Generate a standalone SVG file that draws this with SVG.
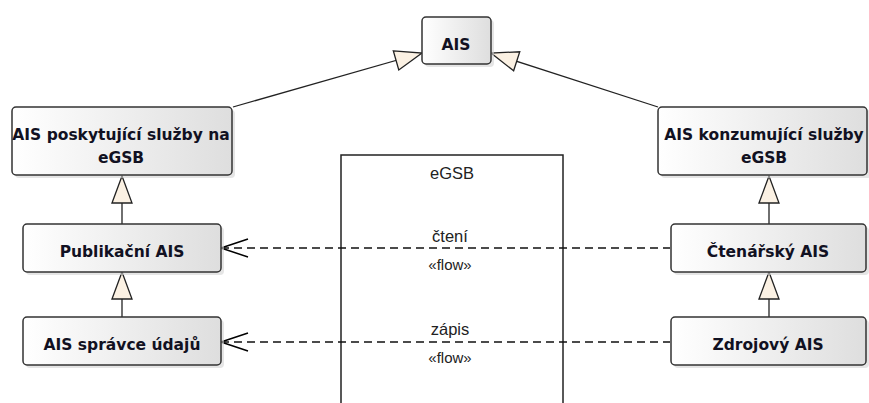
<svg xmlns="http://www.w3.org/2000/svg" width="869" height="403" viewBox="0 0 869 403">
<defs>
<linearGradient id="g" x1="0" y1="0" x2="1" y2="0">
<stop offset="0" stop-color="#ffffff"/>
<stop offset="1" stop-color="#dedede"/>
</linearGradient>
<marker id="open" viewBox="0 0 30 20" refX="1" refY="10" markerWidth="30" markerHeight="20" markerUnits="userSpaceOnUse" orient="auto">
<path d="M28,1 L1,10 L28,19" fill="none" stroke="#000" stroke-width="1.5"/>
</marker>
<marker id="gen" viewBox="0 0 30 24" refX="29" refY="12" markerWidth="30" markerHeight="24" markerUnits="userSpaceOnUse" orient="auto">
<path d="M2,2 L29,12 L2,22 Z" fill="#fbf1e3" stroke="#222" stroke-width="1.3"/>
</marker>
</defs>
<style>
.box{fill:url(#g);stroke:#333;stroke-width:1.5}
.sh{fill:#d4d4d4;opacity:0.6}
.t{font-family:"DejaVu Sans",Verdana,sans-serif;font-weight:bold;font-size:15.5px;fill:#111122;text-anchor:middle}
.lbl{font-family:"Liberation Sans",Arial,sans-serif;font-size:16.5px;fill:#222;text-anchor:middle}
.st{font-family:"Liberation Sans",Arial,sans-serif;font-size:15px;fill:#222;text-anchor:middle}
.ln{stroke:#222;stroke-width:1.3;fill:none}
.dash{stroke:#111;stroke-width:1.5;fill:none;stroke-dasharray:8,5}
</style>
<g id="eGSB">
<rect x="341" y="155" width="222" height="260" fill="#fff" stroke="#222" stroke-width="1.5"/>
<text class="lbl" x="452" y="179">eGSB</text>
</g>
<g id="connectors">
<path class="ln" d="M233,107 L422,53" marker-end="url(#gen)"/>
<path class="ln" d="M658,107 L491,53" marker-end="url(#gen)"/>
<path class="ln" d="M122,224 L122,176" marker-end="url(#gen)"/>
<path class="ln" d="M122,317 L122,272" marker-end="url(#gen)"/>
<path class="ln" d="M769,224 L769,176" marker-end="url(#gen)"/>
<path class="ln" d="M769,317 L769,272" marker-end="url(#gen)"/>
<path class="dash" d="M221,248 L670,248" marker-start="url(#open)"/>
<path class="dash" d="M221,342 L670,342" marker-start="url(#open)"/>
<text class="lbl" x="450" y="242">čtení</text>
<text class="st" x="450" y="270">«flow»</text>
<text class="lbl" x="450" y="335">zápis</text>
<text class="st" x="450" y="363">«flow»</text>
</g>
<g id="AIS">
<rect class="sh" x="425" y="20" width="69" height="47" rx="4"/>
<rect class="box" x="422" y="17" width="69" height="47" rx="4"/>
<text class="t" x="456" y="50">AIS</text>
</g>
<g id="AIS_poskytujici">
<rect class="sh" x="15" y="110" width="220" height="68" rx="4"/>
<rect class="box" x="12" y="107" width="220" height="68" rx="4"/>
<text class="t" x="121" y="140">AIS poskytující služby na</text>
<text class="t" x="121" y="163">eGSB</text>
</g>
<g id="AIS_konzumujici">
<rect class="sh" x="661" y="110" width="210" height="68" rx="4"/>
<rect class="box" x="658" y="107" width="209" height="68" rx="4"/>
<text class="t" x="764" y="140">AIS konzumující služby</text>
<text class="t" x="764" y="163">eGSB</text>
</g>
<g id="Publikacni_AIS">
<rect class="sh" x="26" y="227" width="198" height="48" rx="4"/>
<rect class="box" x="23" y="224" width="198" height="48" rx="4"/>
<text class="t" x="122" y="257">Publikační AIS</text>
</g>
<g id="AIS_spravce">
<rect class="sh" x="26" y="320" width="198" height="48" rx="4"/>
<rect class="box" x="23" y="317" width="198" height="48" rx="4"/>
<text class="t" x="122" y="350">AIS správce údajů</text>
</g>
<g id="Ctenarsky_AIS">
<rect class="sh" x="674" y="227" width="195" height="48" rx="4"/>
<rect class="box" x="671" y="224" width="195" height="48" rx="4"/>
<text class="t" x="768" y="257">Čtenářský AIS</text>
</g>
<g id="Zdrojovy_AIS">
<rect class="sh" x="674" y="320" width="195" height="48" rx="4"/>
<rect class="box" x="671" y="317" width="195" height="48" rx="4"/>
<text class="t" x="768" y="350">Zdrojový AIS</text>
</g>
</svg>
